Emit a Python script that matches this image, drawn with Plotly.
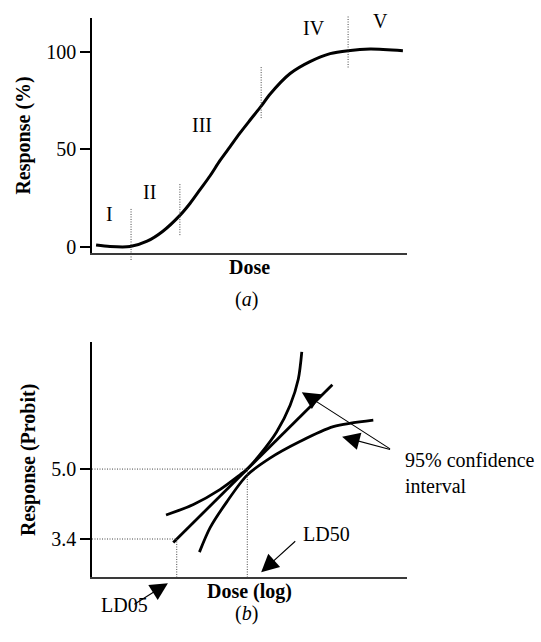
import plotly.graph_objects as go

# ---------------- data: panel (a) ----------------
dose_a = [0.13, 0.57, 1.21, 1.75, 2.25, 2.79, 3.11, 3.43, 3.75, 4.06, 4.38,
          4.70, 5.02, 5.37, 5.65, 6.29, 6.92, 7.56, 8.13, 8.83, 9.87]
resp_a = [1.0, 0.25, 0.25, 3.0, 8.1, 16.2, 22.3, 29.4, 36.5, 44.2, 51.3,
          58.4, 65.0, 72.1, 78.2, 88.8, 94.9, 99.0, 100.5, 101.3, 100.5]
ticks_a = [0, 50, 100]
tick_text_a = ["0", "50", "100"]
phase_labels = ["I", "II", "III", "IV", "V"]
phase_label_x = [0.57, 1.83, 3.49, 7.05, 9.17]
phase_label_y = [16.8, 28.4, 62.4, 112.2, 115.7]
phase_bounds = [1.24, 2.79, 5.37, 8.13]
bound_lo = [-6.6, 6.1, 66.0, 91.9]
bound_hi = [19.8, 32.5, 92.4, 118.3]

# ---------------- data: panel (b) ----------------
fit_x = [2.58, 7.63]
fit_y = [3.32, 6.93]
upper_x = [2.35, 3.22, 4.06, 4.70, 4.91, 5.33, 5.86, 6.29, 6.55, 6.66]
upper_y = [3.95, 4.19, 4.53, 4.87, 4.99, 5.33, 5.85, 6.46, 7.06, 7.68]
lower_x = [3.41, 3.75, 4.28, 4.91, 5.65, 6.60, 7.66, 8.93]
lower_y = [3.10, 3.66, 4.25, 4.85, 5.25, 5.63, 5.97, 6.12]
ld05 = (2.69, 3.4)
ld50 = (4.93, 5.0)
ticks_b = [3.4, 5.0]
tick_text_b = ["3.4", "5.0"]

# ---------------- layout geometry ----------------
W, H = 541, 642
xdom = [92 / W, 407 / W]
ydom_a = [1 - 255 / H, 1 - 18 / H]
ydom_b = [1 - 582 / H, 1 - 345 / H]
xr = [0, 10]
yr_a = [-3.05, 117.3]
yr_b = [2.52, 7.90]

FONT = "Liberation Serif"
BLACK = "#000000"


def to_paper(v, rng, dom):
    return dom[0] + (v - rng[0]) / (rng[1] - rng[0]) * (dom[1] - dom[0])


fig = go.Figure()

# panel (a) curve
fig.add_trace(go.Scatter(x=dose_a, y=resp_a, mode="lines", xaxis="x", yaxis="y",
                         line=dict(color=BLACK, width=3, shape="spline", smoothing=0.8),
                         showlegend=False, hoverinfo="skip"))

# panel (b) curves
fig.add_trace(go.Scatter(x=fit_x, y=fit_y, mode="lines", xaxis="x2", yaxis="y2",
                         line=dict(color=BLACK, width=2.8), showlegend=False, hoverinfo="skip"))
fig.add_trace(go.Scatter(x=upper_x, y=upper_y, mode="lines", xaxis="x2", yaxis="y2",
                         line=dict(color=BLACK, width=2.8, shape="spline", smoothing=0.8),
                         showlegend=False, hoverinfo="skip"))
fig.add_trace(go.Scatter(x=lower_x, y=lower_y, mode="lines", xaxis="x2", yaxis="y2",
                         line=dict(color=BLACK, width=2.8, shape="spline", smoothing=0.8),
                         showlegend=False, hoverinfo="skip"))

shapes = []
dot = dict(color="#444444", width=1, dash="1px,1.5px")
# phase boundaries (a)
for bx, lo, hi in zip(phase_bounds, bound_lo, bound_hi):
    shapes.append(dict(type="line", xref="x", yref="paper", x0=bx, x1=bx,
                       y0=to_paper(lo, yr_a, ydom_a), y1=to_paper(hi, yr_a, ydom_a), line=dot))
# LD guides (b)
for lx, ly in (ld05, ld50):
    shapes.append(dict(type="line", xref="x2", yref="y2", x0=xr[0], x1=lx, y0=ly, y1=ly, line=dot))
    shapes.append(dict(type="line", xref="x2", yref="y2", x0=lx, x1=lx, y0=yr_b[0], y1=ly, line=dot))

ann = []
tf = dict(family=FONT, size=20, color=BLACK)
for t, x, y in zip(phase_labels, phase_label_x, phase_label_y):
    ann.append(dict(text=t, x=x, y=y, xref="x", yref="y", showarrow=False, font=tf))

arrow = dict(showarrow=True, arrowhead=2, arrowsize=3.2, arrowwidth=1.1, arrowcolor=BLACK, text="")
# confidence interval arrows
ann.append(dict(x=6.66, y=6.76, ax=9.51, ay=5.44, xref="x2", yref="y2", axref="x2", ayref="y2", **arrow))
ann.append(dict(x=7.94, y=5.74, ax=9.51, ay=5.44, xref="x2", yref="y2", axref="x2", ayref="y2", **arrow))
ann.append(dict(text="95% confidence<br>interval", x=9.87, y=4.91, xref="x2", yref="y2",
                xanchor="left", yanchor="middle", align="left", showarrow=False, font=tf))
# LD50
ann.append(dict(x=5.37, y=2.64, ax=6.50, ay=3.38, xref="x2", yref="y2", axref="x2", ayref="y2", **arrow))
ann.append(dict(text="LD50", x=7.43, y=3.52, xref="x2", yref="y2", showarrow=False, font=tf))
# LD05 (below the axis)
ann.append(dict(x=2.41, y=to_paper(2.39, yr_b, ydom_b), ax=-35, ay=22, xref="x2", yref="paper",
                axref="pixel", ayref="pixel", **arrow))
ann.append(dict(text="LD05", x=1.02, y=to_paper(1.585, yr_b, ydom_b), xref="x2", yref="paper",
                showarrow=False, font=tf))
# panel captions
ann.append(dict(text="(<i>a</i>)", x=246 / W, y=1 - 302 / H, xref="paper", yref="paper",
                showarrow=False, font=tf))
ann.append(dict(text="(<i>b</i>)", x=246 / W, y=1 - 632 / H, xref="paper", yref="paper",
                showarrow=False, font=tf))

title_font = dict(family=FONT, size=20, color=BLACK, weight="bold")
xcommon = dict(range=xr, domain=xdom, showline=True, linecolor="#3a3a3a", linewidth=2,
               showticklabels=False, ticks="", showgrid=False, zeroline=False)
ycommon = dict(domain=None, showline=True, linecolor=BLACK, linewidth=1.5, ticks="outside",
               ticklen=10, tickwidth=1.5, tickcolor=BLACK, showgrid=False, zeroline=False,
               tickfont=dict(family=FONT, size=20, color=BLACK))

fig.update_layout(
    width=W, height=H, margin=dict(l=0, r=0, t=0, b=0),
    paper_bgcolor="white", plot_bgcolor="white",
    font=dict(family=FONT, size=20, color=BLACK),
    xaxis=dict(**xcommon, anchor="y", title=dict(text="<b>Dose</b>", font=title_font, standoff=6)),
    xaxis2=dict(**xcommon, anchor="y2", title=dict(text="<b>Dose (log)</b>", font=title_font, standoff=6)),
    yaxis=dict(**{**ycommon, "domain": ydom_a}, range=yr_a, anchor="x", tickvals=ticks_a,
               ticktext=tick_text_a,
               title=dict(text="<b>Response (%)</b>", font=title_font, standoff=10)),
    yaxis2=dict(**{**ycommon, "domain": ydom_b}, range=yr_b, anchor="x2", tickvals=ticks_b,
                ticktext=tick_text_b,
                title=dict(text="<b>Response (Probit)</b>", font=title_font, standoff=10)),
    shapes=shapes, annotations=ann,
)

fig.write_html("out.html")
